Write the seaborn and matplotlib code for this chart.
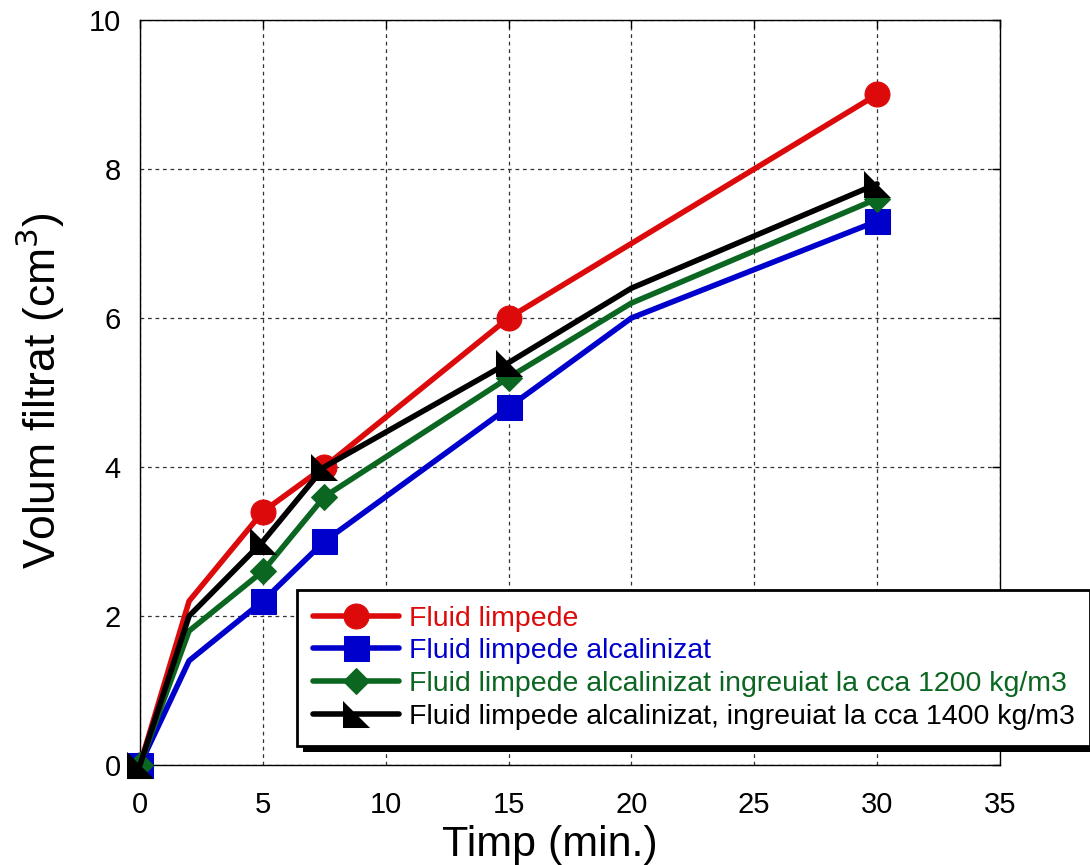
import pandas as pd
import matplotlib
matplotlib.use("Agg")
import matplotlib.pyplot as plt
from matplotlib.patches import Rectangle
from matplotlib.transforms import IdentityTransform
import seaborn as sns

#Datos
timp = [0, 2, 5, 7.5, 15, 20, 30]
fluid_limpede = [0, 2.2, 3.4, 4.0, 6.0, 7.0, 9.0]
fluid_alcalinizat = [0, 1.4, 2.2, 3.0, 4.8, 6.0, 7.3]
fluid_1200 = [0, 1.8, 2.6, 3.6, 5.2, 6.2, 7.6]
fluid_1400 = [0, 2.0, 3.0, 4.0, 5.4, 6.4, 7.8]
marcadores_idx = [0, 2, 3, 4, 6]

etichete = ["Fluid limpede",
            "Fluid limpede alcalinizat",
            "Fluid limpede alcalinizat ingreuiat la cca 1200 kg/m3",
            "Fluid limpede alcalinizat, ingreuiat la cca 1400 kg/m3"]

sns.set_style("white")
plt.rcParams["font.family"] = ["Liberation Sans", "DejaVu Sans"]
plt.rcParams["text.color"] = "black"
plt.rcParams["axes.labelcolor"] = "black"

fig = plt.figure(figsize=(10.9, 8.65), dpi=100)
ax = fig.add_axes([0.1284, 0.1156, 0.789, 0.8613])

triunghi = [(-1, 1), (-1, -1), (1, -1)]
serii = [
    (fluid_limpede, "#dc0a0a", "o", 18),
    (fluid_alcalinizat, "#0000cc", "s", 18),
    (fluid_1200, "#0a6620", "D", 13),
    (fluid_1400, "black", triunghi, 19),
]

for (valori, culoare, marker, ms), eticheta in zip(serii, etichete):
    df = pd.DataFrame({"Timp": timp, "Volum": valori})
    sns.lineplot(data=df, x="Timp", y="Volum", ax=ax, color=culoare, linewidth=4,
                 marker=marker, markersize=ms, markevery=marcadores_idx,
                 markeredgecolor=culoare, markerfacecolor=culoare,
                 label=eticheta, clip_on=False, zorder=3)

ax.set_xlim(0, 35)
ax.set_ylim(0, 10)
ax.set_xticks(range(0, 36, 5))
ax.set_yticks(range(0, 11, 2))
ax.grid(True, color="#333333", linestyle=(0, (3, 3)), linewidth=0.9)
ax.tick_params(direction="in", length=6, width=1, top=True, right=True,
               labelsize=21, colors="black")
ax.tick_params(axis="x", pad=19)
ax.tick_params(axis="y", pad=14)
for s in ax.spines.values():
    s.set_color("black")
    s.set_linewidth(1)

ax.set_xlabel("Timp (min.)", fontsize=31, color="black")
ax.set_ylabel("Volum filtrat (cm$^3$)", fontsize=32, color="black")
ax.xaxis.set_label_coords(0.477, -0.08)
ax.yaxis.set_label_coords(-0.085, 0.503)

leg = ax.legend(loc="upper left", bbox_to_anchor=(0.1826, 0.235), borderaxespad=0,
                fontsize=20.5, frameon=True, fancybox=False, edgecolor="black",
                handlelength=3.05, handletextpad=0.32, labelspacing=0.24,
                borderpad=0.55, labelcolor="linecolor", framealpha=1)
leg.get_frame().set_linewidth(2)

#sombra negra del cuadro de leyenda
fig.canvas.draw()
bb = leg.get_window_extent()
umbra = Rectangle((bb.x0 + 6, bb.y0 - 6), bb.width, bb.height, transform=IdentityTransform(),
                  facecolor="black", edgecolor="none", zorder=4.9, clip_on=False)
ax.add_artist(umbra)

fig.savefig("out.png", dpi=100)
